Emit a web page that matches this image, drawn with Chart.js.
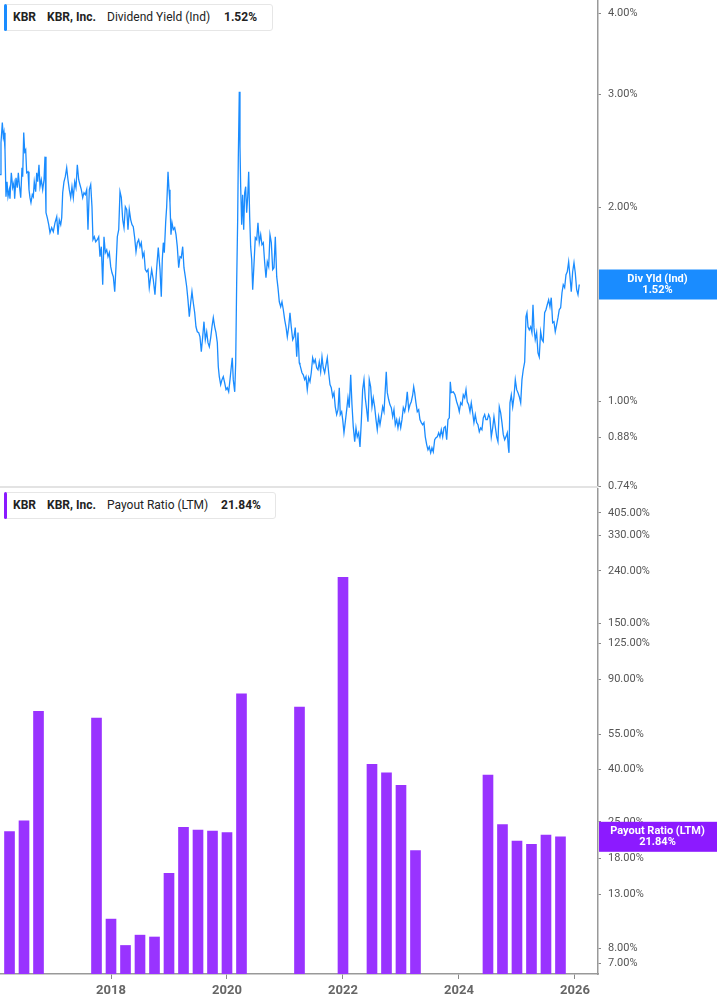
<!DOCTYPE html>
<html>
<head>
<meta charset="utf-8">
<title>KBR - Dividend Yield / Payout Ratio</title>
<script src="https://cdn.jsdelivr.net/npm/chart.js@4.4.1/dist/chart.umd.min.js"></script>
<style>
  body { margin: 0; background: #fff; font-family: Roboto, "Noto Sans", sans-serif; }
  #wrap { position: relative; width: 717px; height: 1005px; overflow: hidden; }
  .box { position: absolute; left: 0; width: 717px; }
  #boxYield { top: 0; height: 500px; }
  #boxPayout { top: 488px; height: 517px; }
  .sep { position: absolute; left: 0; top: 486px; width: 598px; height: 2px; background: #e3e3e3; z-index: 1; }
  .legend { position: absolute; left: 4px; height: 25px; background: #fff; border: 1px solid #e6e6e6;
            border-radius: 3px; font-size: 12px; color: #222; white-space: nowrap; z-index: 2; }
  .legend .mark { position: absolute; left: -1px; top: -1px; width: 3px; height: 27px; border-radius: 2px; }
  .legend span { position: absolute; top: 5px; line-height: 15px; }
  .legend b { font-weight: 700; }
</style>
</head>
<body>
<div id="wrap">
  <div class="box" id="boxYield"><canvas id="chartYield"></canvas></div>
  <div class="box" id="boxPayout"><canvas id="chartPayout"></canvas></div>
  <div class="sep"></div>

  <div class="legend" style="top:4px; width:267px;">
    <div class="mark" style="background:#1a8cff;"></div>
    <span style="left:8px;"><b>KBR</b></span>
    <span style="left:42px;"><b>KBR, Inc.</b></span>
    <span style="left:102px;">Dividend Yield (Ind)</span>
    <span style="left:219px;"><b>1.52%</b></span>
  </div>
  <div class="legend" style="top:492px; width:270px;">
    <div class="mark" style="background:#8a1aff;"></div>
    <span style="left:8px;"><b>KBR</b></span>
    <span style="left:42px;"><b>KBR, Inc.</b></span>
    <span style="left:102px;">Payout Ratio (LTM)</span>
    <span style="left:216px;"><b>21.84%</b></span>
  </div>
</div>

<script>
// Datos (año decimal, %)
const yieldDates = [
  2016.086, 2016.103, 2016.126, 2016.143, 2016.155, 2016.172, 2016.189, 2016.207, 2016.224, 2016.246,
  2016.258, 2016.281, 2016.305, 2016.327, 2016.339, 2016.362, 2016.384, 2016.402, 2016.419, 2016.443,
  2016.465, 2016.477, 2016.495, 2016.512, 2016.529, 2016.546, 2016.569, 2016.586, 2016.603, 2016.620,
  2016.643, 2016.660, 2016.677, 2016.701, 2016.719, 2016.736, 2016.758, 2016.776, 2016.798, 2016.822,
  2016.845, 2016.862, 2016.879, 2016.902, 2016.926, 2016.948, 2016.977, 2017.005, 2017.034, 2017.064,
  2017.086, 2017.108, 2017.133, 2017.150, 2017.167, 2017.189, 2017.212, 2017.236, 2017.258, 2017.281,
  2017.305, 2017.327, 2017.350, 2017.374, 2017.396, 2017.419, 2017.443, 2017.465, 2017.488, 2017.512,
  2017.534, 2017.557, 2017.581, 2017.603, 2017.626, 2017.650, 2017.672, 2017.689, 2017.712, 2017.736,
  2017.764, 2017.788, 2017.810, 2017.833, 2017.857, 2017.879, 2017.902, 2017.926, 2017.948, 2017.971,
  2017.995, 2018.017, 2018.040, 2018.064, 2018.086, 2018.109, 2018.133, 2018.155, 2018.178, 2018.202,
  2018.224, 2018.247, 2018.271, 2018.293, 2018.315, 2018.340, 2018.362, 2018.384, 2018.408, 2018.431,
  2018.453, 2018.477, 2018.500, 2018.522, 2018.546, 2018.569, 2018.591, 2018.615, 2018.638, 2018.660,
  2018.701, 2018.729, 2018.758, 2018.788, 2018.815, 2018.845, 2018.867, 2018.884, 2018.902, 2018.919,
  2018.943, 2018.960, 2018.983, 2019.000, 2019.017, 2019.034, 2019.052, 2019.074, 2019.098, 2019.121,
  2019.143, 2019.167, 2019.190, 2019.212, 2019.236, 2019.258, 2019.281, 2019.305, 2019.327, 2019.350,
  2019.374, 2019.396, 2019.419, 2019.443, 2019.465, 2019.488, 2019.512, 2019.534, 2019.557, 2019.581,
  2019.603, 2019.626, 2019.650, 2019.672, 2019.695, 2019.719, 2019.741, 2019.764, 2019.788, 2019.810,
  2019.833, 2019.850, 2019.867, 2019.891, 2019.914, 2019.936, 2019.960, 2019.983, 2020.005, 2020.029,
  2020.052, 2020.074, 2020.091, 2020.108, 2020.133, 2020.150, 2020.167, 2020.184, 2020.195, 2020.212,
  2020.224, 2020.236, 2020.253, 2020.270, 2020.288, 2020.305, 2020.322, 2020.339, 2020.357, 2020.374,
  2020.391, 2020.408, 2020.426, 2020.443, 2020.465, 2020.488, 2020.512, 2020.534, 2020.557, 2020.581,
  2020.603, 2020.626, 2020.650, 2020.672, 2020.695, 2020.719, 2020.741, 2020.764, 2020.788, 2020.810,
  2020.833, 2020.857, 2020.879, 2020.902, 2020.926, 2020.948, 2020.971, 2020.995, 2021.017, 2021.040,
  2021.064, 2021.086, 2021.108, 2021.133, 2021.155, 2021.177, 2021.202, 2021.224, 2021.246,
  2021.258, 2021.293, 2021.315, 2021.339, 2021.362, 2021.384, 2021.408, 2021.431, 2021.453, 2021.477,
  2021.500, 2021.522, 2021.546, 2021.569, 2021.591, 2021.615, 2021.638, 2021.660, 2021.684, 2021.707,
  2021.729, 2021.753, 2021.776, 2021.798, 2021.822, 2021.845, 2021.867, 2021.891, 2021.914, 2021.936,
  2021.953, 2021.977, 2021.995, 2022.017, 2022.040, 2022.064, 2022.086, 2022.108, 2022.133, 2022.155,
  2022.177, 2022.202, 2022.224, 2022.246, 2022.270, 2022.293, 2022.315, 2022.339, 2022.362, 2022.384,
  2022.408, 2022.431, 2022.453, 2022.477, 2022.500, 2022.522, 2022.546, 2022.569, 2022.591, 2022.615,
  2022.638, 2022.660, 2022.684, 2022.707, 2022.729, 2022.746, 2022.764, 2022.788, 2022.810, 2022.833,
  2022.857, 2022.879, 2022.902, 2022.926, 2022.948, 2022.971, 2022.995, 2023.017, 2023.040, 2023.064,
  2023.086, 2023.108, 2023.133, 2023.155, 2023.177, 2023.202, 2023.219, 2023.236, 2023.258, 2023.281,
  2023.305, 2023.327, 2023.350, 2023.374, 2023.396, 2023.419, 2023.443, 2023.465, 2023.488, 2023.512,
  2023.534, 2023.557, 2023.581, 2023.603, 2023.626, 2023.650, 2023.672, 2023.695, 2023.719, 2023.741,
  2023.764, 2023.788, 2023.810, 2023.833, 2023.850,
  2023.867, 2023.902, 2023.931, 2023.960, 2023.988, 2024.005, 2024.029, 2024.052, 2024.074, 2024.098,
  2024.121, 2024.143, 2024.167, 2024.190, 2024.212, 2024.236, 2024.258, 2024.281, 2024.305, 2024.327,
  2024.350, 2024.374, 2024.396, 2024.419, 2024.443, 2024.465, 2024.488, 2024.512, 2024.534, 2024.557,
  2024.581, 2024.603, 2024.626, 2024.650, 2024.672, 2024.695, 2024.719, 2024.741, 2024.764, 2024.788,
  2024.810, 2024.833, 2024.850, 2024.862, 2024.879, 2024.902, 2024.926, 2024.948, 2024.971, 2024.995,
  2025.017, 2025.040, 2025.064, 2025.086, 2025.108, 2025.133, 2025.155, 2025.172, 2025.190, 2025.212,
  2025.236, 2025.258, 2025.276, 2025.293, 2025.315, 2025.339, 2025.362, 2025.384, 2025.408, 2025.431,
  2025.453, 2025.477, 2025.500, 2025.522, 2025.546, 2025.569, 2025.591, 2025.615, 2025.638, 2025.660,
  2025.684, 2025.707, 2025.729, 2025.753, 2025.776, 2025.798, 2025.822, 2025.845, 2025.867, 2025.891,
  2025.914, 2025.936, 2025.960, 2025.983, 2026.005, 2026.029, 2026.052, 2026.074
];

const yieldValues = [
  2.250, 2.522, 2.710, 2.577, 2.615, 2.460, 2.080, 2.194, 2.080, 2.133,
  2.065, 2.266, 2.148, 2.187, 2.065, 2.226, 2.148, 2.266, 2.171, 2.073,
  2.307, 2.234, 2.615, 2.443, 2.460, 2.266, 2.274, 2.133, 2.073, 2.036,
  2.095, 2.080, 2.194, 2.118, 2.266, 2.194, 2.332, 2.156, 2.210, 2.133,
  2.210, 2.400, 1.964, 1.929, 1.882, 1.829, 1.862, 1.836, 1.895, 1.936,
  1.816, 1.915, 1.882, 1.929, 2.110, 2.194, 2.234, 2.307, 2.210, 2.133,
  2.073, 2.156, 2.073, 2.194, 2.148, 2.332, 2.210, 2.171, 2.133, 2.073,
  2.110, 2.095, 2.133, 1.849, 2.133, 2.171, 2.007, 1.784, 1.803, 1.771,
  1.784, 1.803, 1.679, 1.740, 1.519, 1.803, 1.703, 1.721, 1.679, 1.703,
  1.620, 1.585, 1.563, 1.482, 1.620, 1.803, 1.849, 2.118, 2.073, 1.915,
  1.862, 2.007, 1.986, 1.849, 1.986, 1.915, 1.882, 1.869, 1.797, 1.709,
  1.765, 1.784, 1.740, 1.765, 1.679, 1.703, 1.603, 1.591, 1.603, 1.503,
  1.603, 1.546, 1.466, 1.614, 1.734, 1.603, 1.455, 1.661, 1.765, 1.703,
  1.902, 2.007, 2.274, 2.133, 2.036, 1.816, 1.895, 1.849, 1.862, 1.816,
  1.740, 1.614, 1.679, 1.673, 1.740, 1.614, 1.563, 1.508, 1.439, 1.355,
  1.424, 1.482, 1.424, 1.374, 1.307, 1.284, 1.280, 1.261, 1.196, 1.261,
  1.331, 1.248, 1.284, 1.235, 1.217, 1.257, 1.307, 1.350, 1.307, 1.280,
  1.235, 1.133, 1.094, 1.063, 1.082, 1.094, 1.070, 1.044, 1.051, 1.036,
  1.082, 1.133, 1.170, 1.082, 1.036, 1.149, 1.535, 1.915, 2.391, 3.027,
  2.487, 2.156, 1.882, 2.095, 1.849, 2.110, 2.156, 1.964, 2.080, 2.274,
  1.936, 1.740, 1.661, 1.492, 1.632, 1.797, 1.784, 1.895, 1.765, 1.816,
  1.752, 1.765, 1.643, 1.557, 1.649, 1.620, 1.816, 1.765, 1.603, 1.614,
  1.803, 1.563, 1.503, 1.429, 1.404, 1.429, 1.389, 1.340, 1.307, 1.261,
  1.307, 1.374, 1.307, 1.248, 1.261, 1.303, 1.174, 1.280, 1.149,
  1.141, 1.109, 1.101, 1.082, 1.094, 1.044, 1.090, 1.074, 1.109, 1.170,
  1.149, 1.162, 1.129, 1.121, 1.153, 1.113, 1.174, 1.129, 1.109, 1.141,
  1.170, 1.109, 1.063, 1.051, 1.018, 1.033, 0.982, 0.955, 0.972, 1.051,
  0.955, 0.965, 0.938, 0.895, 0.931, 0.972, 1.014, 0.979, 1.101, 0.989,
  0.915, 0.867, 0.911, 0.882, 0.895, 0.851, 0.928, 1.044, 1.082, 1.014,
  0.972, 0.931, 1.082, 1.055, 0.982, 1.014, 0.982, 0.938, 0.905, 0.948,
  0.921, 0.948, 0.982, 0.965, 1.044, 1.113, 1.033, 1.007, 0.989, 0.979,
  0.948, 0.972, 0.921, 0.938, 0.911, 0.938, 0.911, 0.938, 0.979, 0.965,
  0.989, 1.036, 0.972, 0.989, 1.000, 1.025, 1.055, 1.033, 0.996, 0.965,
  0.972, 0.938, 0.928, 0.921, 0.928, 0.882, 0.858, 0.842, 0.851, 0.833,
  0.848, 0.836, 0.873, 0.879, 0.882, 0.895, 0.882, 0.905, 0.882, 0.911,
  0.915, 0.873, 0.938, 0.944, 1.074,
  1.033, 1.036, 1.025, 1.000, 0.982, 0.965, 0.996, 0.989, 1.025, 1.014,
  1.044, 1.000, 0.989, 0.965, 0.996, 0.961, 0.928, 0.955, 0.928, 0.921,
  0.898, 0.911, 0.905, 0.944, 0.955, 0.938, 0.938, 0.955, 0.944, 0.882,
  0.911, 0.948, 0.915, 0.882, 0.867, 0.982, 0.961, 0.928, 0.889, 0.873,
  0.882, 0.895, 0.851, 0.833, 0.996, 1.025, 0.982, 1.018, 1.082, 1.044,
  1.033, 1.018, 0.996, 1.082, 1.121, 1.153, 1.355, 1.374, 1.307, 1.293,
  1.307, 1.280, 1.414, 1.303, 1.248, 1.280, 1.191, 1.174, 1.284, 1.248,
  1.239, 1.374, 1.389, 1.414, 1.439, 1.404, 1.450, 1.326, 1.331, 1.284,
  1.317, 1.350, 1.389, 1.399, 1.476, 1.519, 1.503, 1.574, 1.591, 1.649,
  1.563, 1.482, 1.591, 1.643, 1.585, 1.492, 1.466, 1.52
];

// Payout ratio trimestral (fin de trimestre, año decimal)
const payoutDates = [
  2016.25, 2016.5, 2016.75, 2017.75, 2018.0, 2018.25, 2018.5, 2018.75, 2019.0,
  2019.25, 2019.5, 2019.75, 2020.0, 2020.25, 2021.25, 2022.0, 2022.5, 2022.75,
  2023.0, 2023.25, 2024.5, 2024.75, 2025.0, 2025.25, 2025.5, 2025.75
];
const payoutValues = [
  22.9, 25.2, 67.7, 63.7, 10.4, 8.2, 9.0, 8.85, 15.7,
  23.8, 23.2, 23.0, 22.7, 79.2, 70.4, 226.5, 42.0, 38.9,
  34.7, 19.3, 38.1, 24.4, 21.0, 20.4, 22.2, 21.84
];

const yieldTicks = [0.74, 0.88, 1, 2, 3, 4];
const payoutTicks = [7, 8, 13, 18, 25, 40, 55, 90, 125, 150, 240, 330, 405];
const yearTicks = [2018, 2020, 2022, 2024, 2026];

const X_MIN = 2016.086;
const X_MAX = 2026.397;
const AXIS_COLOR = '#999';
const TICK_COLOR = '#555';

Chart.defaults.font.family = 'Roboto, "Noto Sans", sans-serif';

// Etiqueta del último valor sobre el eje derecho
const lastValueLabel = {
  id: 'lastValueLabel',
  afterDraw(chart, args, opts) {
    const { ctx, chartArea, width } = chart;
    const y = chart.scales.y.getPixelForValue(opts.value);
    const cx = (chartArea.right + width) / 2;
    ctx.save();
    ctx.fillStyle = opts.color;
    ctx.fillRect(chartArea.right + 1, y - 15, width - chartArea.right - 1, 30);
    ctx.fillStyle = '#fff';
    ctx.font = 'bold 11px Roboto, "Noto Sans", sans-serif';
    ctx.textAlign = 'center';
    ctx.textBaseline = 'middle';
    ctx.fillText(opts.title, cx, y - 5.5);
    ctx.fillText(opts.text, cx, y + 5.5);
    ctx.restore();
  }
};

// Eje log a la derecha; bounds 'data' para que no redondee min/max
function rightAxis(min, max, tickValues) {
  return {
    type: 'logarithmic',
    position: 'right',
    bounds: 'data',
    min: min,
    max: max,
    border: { display: true, color: AXIS_COLOR, width: 1.5 },
    grid: { display: true, drawOnChartArea: false, drawTicks: true, tickLength: 3, color: '#888' },
    ticks: {
      autoSkip: false,
      padding: 7,
      color: TICK_COLOR,
      font: { size: 11 },
      callback: v => Number(v).toFixed(2) + '%'
    },
    afterBuildTicks: s => { s.ticks = tickValues.map(v => ({ value: v })); },
    afterFit: s => { s.width = 119; s.paddingTop = 0; s.paddingBottom = 0; }
  };
}

const Charts = {
  instances: {},

  // Dividend Yield (línea)
  renderDividendYield() {
    const ctx = document.getElementById('chartYield');
    this.instances.yield = new Chart(ctx, {
      type: 'line',
      data: {
        datasets: [{
          data: yieldDates.map((d, i) => ({ x: d, y: yieldValues[i] })),
          borderColor: '#1a8cff',
          borderWidth: 1.3,
          pointRadius: 0,
          tension: 0
        }]
      },
      options: {
        responsive: true,
        maintainAspectRatio: false,
        animation: false,
        layout: { padding: 0, autoPadding: false },
        scales: {
          // eje x invisible, solo reserva el hueco inferior
          x: {
            type: 'linear',
            min: X_MIN,
            max: X_MAX,
            display: true,
            border: { display: false },
            grid: { display: false },
            ticks: { display: false },
            afterFit: s => { s.height = 14; s.paddingLeft = 0; s.paddingRight = 0; }
          },
          y: rightAxis(0.74, 4.2, yieldTicks)
        },
        plugins: {
          legend: { display: false },
          tooltip: { enabled: false },
          lastValueLabel: { value: 1.52, color: '#1a8cff', title: 'Div Yld (Ind)', text: '1.52%' }
        }
      },
      plugins: [lastValueLabel]
    });
  },

  // Payout Ratio (barras)
  renderPayoutRatio() {
    const ctx = document.getElementById('chartPayout');
    this.instances.payout = new Chart(ctx, {
      type: 'bar',
      data: {
        datasets: [{
          data: payoutDates.map((d, i) => ({ x: d, y: payoutValues[i] })),
          backgroundColor: '#9933ff',
          borderWidth: 0,
          barThickness: 10
        }]
      },
      options: {
        responsive: true,
        maintainAspectRatio: false,
        animation: false,
        layout: { padding: 0 },
        scales: {
          x: {
            type: 'linear',
            min: X_MIN,
            max: X_MAX,
            offset: false,
            border: { display: true, color: AXIS_COLOR, width: 1.5 },
            grid: { display: true, offset: false, drawOnChartArea: false, drawTicks: true, tickLength: 5, color: '#888' },
            ticks: {
              padding: 4,
              color: '#666',
              font: { size: 13, weight: 'bold' },
              callback: v => String(v)
            },
            afterBuildTicks: s => { s.ticks = yearTicks.map(v => ({ value: v })); },
            afterFit: s => { s.height = 31; s.paddingLeft = 0; s.paddingRight = 0; }
          },
          y: rightAxis(6.34, 506.9, payoutTicks)
        },
        plugins: {
          legend: { display: false },
          tooltip: { enabled: false },
          lastValueLabel: { value: 21.84, color: '#8c1aff', title: 'Payout Ratio (LTM)', text: '21.84%' }
        }
      },
      plugins: [lastValueLabel]
    });
  },

  loadAllCharts() {
    this.renderDividendYield();
    this.renderPayoutRatio();
  }
};

Charts.loadAllCharts();
</script>
</body>
</html>
